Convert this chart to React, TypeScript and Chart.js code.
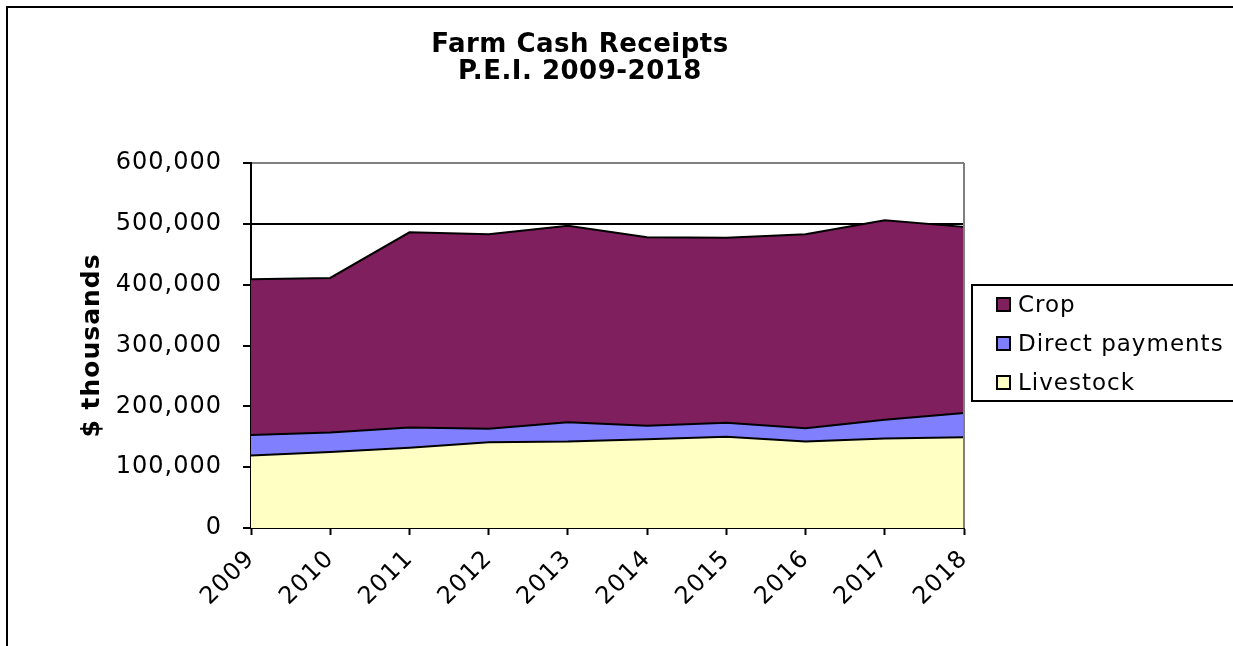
import React, { useEffect, useRef } from "react";
import { Chart, registerables } from "chart.js";

Chart.register(...registerables);

const years = ["2009", "2010", "2011", "2012", "2013", "2014", "2015", "2016", "2017", "2018"];
const livestock = [119000, 125000, 132000, 141000, 142000, 146000, 150000, 142000, 147000, 149000];
const directPayments = [34000, 32000, 33000, 22000, 32000, 22000, 23000, 22000, 31000, 40000];
const crop = [256000, 254000, 321000, 320000, 323000, 310000, 304000, 319000, 328000, 306000];

const titleLines = ["Farm Cash Receipts", "P.E.I. 2009-2018"];
const yTitle = "$ thousands";

const FONT = "'DejaVu Sans', Verdana, sans-serif";

const decorPlugin = {
  id: "decor",
  beforeDraw(chart: any) {
    const ctx = chart.ctx;
    ctx.save();
    ctx.strokeStyle = "#000";
    ctx.lineWidth = 2;
    ctx.beginPath();
    ctx.moveTo(7, 646);
    ctx.lineTo(7, 7);
    ctx.lineTo(1233, 7);
    ctx.stroke();
    ctx.restore();
    try {
      ctx.letterSpacing = "1px";
    } catch (e) {}
  },
  afterDatasetsDraw(chart: any) {
    const { ctx, chartArea } = chart;
    ctx.save();
    ctx.strokeStyle = "#808080";
    ctx.lineWidth = 2;
    ctx.beginPath();
    ctx.moveTo(chartArea.right, chartArea.top);
    ctx.lineTo(chartArea.right, chartArea.bottom);
    ctx.stroke();
    ctx.restore();
  },
  afterDraw(chart: any) {
    const ctx = chart.ctx;
    ctx.save();
    // title
    ctx.fillStyle = "#000";
    ctx.letterSpacing = "0.5px";
    ctx.font = `bold 26px ${FONT}`;
    ctx.textAlign = "center";
    ctx.textBaseline = "alphabetic";
    ctx.fillText(titleLines[0], 580, 52);
    ctx.fillText(titleLines[1], 580, 79);
    // legend
    ctx.lineWidth = 2;
    ctx.strokeStyle = "#000";
    ctx.strokeRect(972, 285, 300, 116);
    const ds = chart.data.datasets.slice().reverse();
    ctx.letterSpacing = "1px";
    ctx.font = `23px ${FONT}`;
    ctx.textAlign = "left";
    ctx.textBaseline = "middle";
    ds.forEach((d: any, i: number) => {
      const cy = 305 + i * 39;
      ctx.fillStyle = d.backgroundColor;
      ctx.fillRect(997, cy - 7, 13, 13);
      ctx.lineWidth = 2;
      ctx.strokeStyle = "#000";
      ctx.strokeRect(997, cy - 7, 13, 13);
      ctx.fillStyle = "#000";
      ctx.fillText(d.label, 1018, cy + 1);
    });
    ctx.restore();
  },
};

export default function App() {
  const ref = useRef<HTMLCanvasElement>(null);
  useEffect(() => {
    if (!ref.current) return;
    const common = {
      borderColor: "#000",
      borderWidth: 2,
      pointRadius: 0,
      tension: 0,
    };
    const chart = new Chart(ref.current, {
      type: "line",
      data: {
        labels: years,
        datasets: [
          { ...common, label: "Livestock", data: livestock, backgroundColor: "#FFFFC4", fill: "origin" },
          { ...common, label: "Direct payments", data: directPayments, backgroundColor: "#8080FF", fill: "-1" },
          { ...common, label: "Crop", data: crop, backgroundColor: "#7F1F5E", fill: "-1" },
        ],
      },
      options: {
        responsive: false,
        animation: false,
        devicePixelRatio: 1,
        layout: { padding: { left: 20, right: 269, top: 163, bottom: 0 } },
        plugins: {
          legend: { display: false },
          title: { display: false },
          tooltip: { enabled: false },
        },
        scales: {
          x: {
            offset: false,
            grid: { drawOnChartArea: false, drawTicks: true, tickLength: 7, tickColor: "#000", tickWidth: 2 },
            border: { color: "#000", width: 2 },
            ticks: {
              minRotation: 45,
              maxRotation: 45,
              padding: 10,
              color: "#000",
              font: { family: FONT, size: 24 },
            },
            afterFit: (s: any) => {
              s.height = 118;
            },
          },
          y: {
            stacked: true,
            min: 0,
            max: 600000,
            grid: {
              color: (c: any) => (c.tick && c.tick.value === 600000 ? "#808080" : "#000"),
              lineWidth: 2,
              tickLength: 8,
              tickColor: "#000",
              tickWidth: 2,
            },
            border: { color: "#000", width: 2 },
            ticks: {
              stepSize: 100000,
              padding: 21,
              color: "#000",
              font: { family: FONT, size: 24 },
              callback: (v: any) => Number(v).toLocaleString("en-US"),
            },
            title: {
              display: true,
              text: yTitle,
              color: "#000",
              font: { family: FONT, size: 25, weight: "bold" },
              padding: { top: 57, bottom: 0 },
            },
            afterFit: (s: any) => {
              s.width = 231;
            },
          },
        },
      },
      plugins: [decorPlugin],
    });
    return () => chart.destroy();
  }, []);
  return (
    <div style={{ position: "fixed", left: 0, top: 0, width: 1233, height: 646, background: "#fff" }}>
      <canvas ref={ref} width={1233} height={646} style={{ display: "block" }} />
    </div>
  );
}
